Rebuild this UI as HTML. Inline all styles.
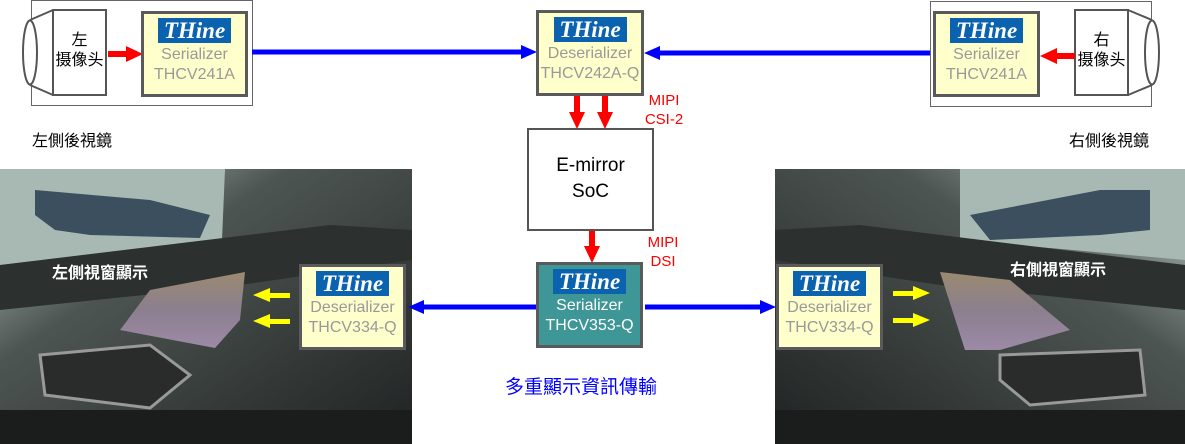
<!DOCTYPE html>
<html><head><meta charset="utf-8"><style>
body{margin:0;width:1185px;height:444px;background:#fff;overflow:hidden;position:relative;font-family:"Liberation Sans","Noto Sans CJK TC",sans-serif}
.a{position:absolute}
.box{position:absolute;box-sizing:border-box;border:3px solid #5a5a5a;background:#ffffcc;text-align:center;color:#999;font-size:16px;line-height:20px}
.logo{display:block;margin:4px auto 2px;width:73px;height:25px;background:#0b63b0;color:#fff;font-family:"Liberation Serif",serif;font-style:italic;font-weight:bold;font-size:23px;line-height:26px}
</style></head><body>
<svg class="a" style="left:0;top:0" width="1185" height="444">
<defs>
<linearGradient id="bg" x1="0" y1="0" x2="1" y2="1"><stop offset="0" stop-color="#b9c9c4"/><stop offset="0.35" stop-color="#4d5552"/><stop offset="1" stop-color="#1f2222"/></linearGradient>
<linearGradient id="bg2" x1="1" y1="0" x2="0" y2="1"><stop offset="0" stop-color="#b9c9c4"/><stop offset="0.35" stop-color="#4d5552"/><stop offset="1" stop-color="#1f2222"/></linearGradient>
<linearGradient id="scr" x1="0" y1="0" x2="0" y2="1"><stop offset="0" stop-color="#9a8a70"/><stop offset="0.5" stop-color="#8b7f8f"/><stop offset="1" stop-color="#9d8aa6"/></linearGradient>
</defs>
<rect x="0" y="169" width="412" height="275" fill="url(#bg)"/>
<path d="M0 169 L225 169 L222 240 L0 265Z" fill="#a8b9b4"/>
<path d="M35 190 L150 200 L210 215 L200 238 L90 235 L55 230 L35 215Z" fill="#3b4f5e"/>
<path d="M0 265 L330 225 L412 230 L412 260 L240 285 L0 310Z" fill="#2c302f"/>
<path d="M150 290 L245 272 L240 320 L215 348 L120 330Z" fill="url(#scr)"/>
<path d="M40 355 L150 345 L190 375 L150 408 L45 395Z" fill="#2a2c2c" stroke="#999" stroke-width="3"/>
<rect x="0" y="410" width="412" height="34" fill="#1b1c1c"/>
<rect x="775" y="169" width="410" height="275" fill="url(#bg2)"/>
<path d="M960 169 L1185 169 L1185 260 L960 240Z" fill="#a8b9b4"/>
<path d="M970 215 L1100 190 L1150 190 L1150 230 L1100 235 L990 240Z" fill="#3b4f5e"/>
<path d="M775 230 L860 225 L1185 265 L1185 310 L940 285 L775 260Z" fill="#2c302f"/>
<path d="M940 272 L1010 280 L1070 330 L1000 350 L965 350Z" fill="url(#scr)"/>
<path d="M1000 355 L1140 350 L1145 395 L1030 405 L1000 380Z" fill="#2a2c2c" stroke="#999" stroke-width="3"/>
<rect x="775" y="410" width="410" height="34" fill="#1b1c1c"/>
<rect x="31.5" y="0.5" width="221" height="105" fill="#fff" stroke="#666"/>
<rect x="930.5" y="1.5" width="221" height="105" fill="#fff" stroke="#666"/>
<rect x="53" y="10" width="53" height="85" fill="#fff" stroke="#555" stroke-width="2"/>
<path d="M53 10 L30 20 M53 95 L30 85" stroke="#555" stroke-width="2"/>
<ellipse cx="30" cy="52.5" rx="7" ry="32" fill="#fff" stroke="#555" stroke-width="2"/>
<rect x="1075" y="10" width="53" height="85" fill="#fff" stroke="#555" stroke-width="2"/>
<path d="M1128 10 L1152 20 M1128 95 L1152 85" stroke="#555" stroke-width="2"/>
<ellipse cx="1152" cy="52.5" rx="7" ry="32" fill="#fff" stroke="#555" stroke-width="2"/>
<g stroke="#0000ff" stroke-width="5" fill="#0000ff">
<line x1="252" y1="52" x2="524" y2="52"/><polygon points="537,52 521,45 521,59" stroke="none"/>
<line x1="930" y1="53" x2="658" y2="53"/><polygon points="644,53 660,46 660,60" stroke="none"/>
<line x1="537" y1="307" x2="422" y2="307"/><polygon points="408,307 424,300 424,314" stroke="none"/>
<line x1="645" y1="307" x2="762" y2="307"/><polygon points="776,307 760,300 760,314" stroke="none"/>
</g>
<g fill="#ff0000">
<rect x="108" y="51" width="20" height="6"/><polygon points="143,54 126,46 126,62"/>
<rect x="1056" y="53" width="19" height="6"/><polygon points="1040,56 1057,48 1057,64"/>
<rect x="574" y="96" width="6" height="18"/><polygon points="577,129 569,112 585,112"/>
<rect x="602" y="96" width="6" height="18"/><polygon points="605,129 597,112 613,112"/>
<rect x="589" y="231" width="6" height="17"/><polygon points="592,263 584,246 600,246"/>
</g>
<g fill="#ffff00">
<rect x="268" y="293" width="22" height="5"/><polygon points="253,295 270,288 270,302"/>
<rect x="268" y="319" width="22" height="5"/><polygon points="253,321 270,314 270,328"/>
<rect x="893" y="291" width="22" height="5"/><polygon points="930,293 913,286 913,300"/>
<rect x="893" y="318" width="22" height="5"/><polygon points="930,320 913,313 913,327"/>
</g>
<rect x="528" y="129" width="125" height="101" fill="#fff" stroke="#555" stroke-width="2"/>
</svg>
<div class="a" style="left:53px;top:31px;width:53px;text-align:center;font-size:16px;line-height:20px">左<br>摄像头</div>
<div class="a" style="left:1075px;top:31px;width:53px;text-align:center;font-size:16px;line-height:20px">右<br>摄像头</div>
<div class="a" style="left:32px;top:127px;font-size:16px">左側後視鏡</div>
<div class="a" style="left:1069px;top:127px;font-size:16px">右側後視鏡</div>
<div class="box" style="left:141px;top:11px;width:107px;height:86px"><span class="logo">THine</span>Serializer<br>THCV241A</div>
<div class="box" style="left:933px;top:11px;width:107px;height:86px"><span class="logo">THine</span>Serializer<br>THCV241A</div>
<div class="box" style="left:536px;top:10px;width:108px;height:86px"><span class="logo">THine</span>Deserializer<br>THCV242A-Q</div>
<div class="box" style="left:536px;top:262px;width:107px;height:86px;background:#3f9696;color:#fff"><span class="logo">THine</span>Serializer<br>THCV353-Q</div>
<div class="box" style="left:299px;top:264px;width:107px;height:86px"><span class="logo">THine</span>Deserializer<br>THCV334-Q</div>
<div class="box" style="left:776px;top:264px;width:107px;height:86px"><span class="logo">THine</span>Deserializer<br>THCV334-Q</div>
<div class="a" style="left:528px;top:153px;width:125px;text-align:center;font-size:19px;line-height:26px">E-mirror<br>SoC</div>
<div class="a" style="left:640px;top:91px;width:48px;text-align:center;color:#f00;font-size:15px;line-height:19px">MIPI<br>CSI-2</div>
<div class="a" style="left:640px;top:233px;width:46px;text-align:center;color:#f00;font-size:15px;line-height:19px">MIPI<br>DSI</div>
<div class="a" style="left:505px;top:372px;color:#0000ff;font-size:19px">多重顯示資訊傳輸</div>
<div class="a" style="left:52px;top:259px;color:#fff;font-weight:bold;font-size:16px">左側視窗顯示</div>
<div class="a" style="left:1010px;top:256px;color:#fff;font-weight:bold;font-size:16px">右側視窗顯示</div>
</body></html>
